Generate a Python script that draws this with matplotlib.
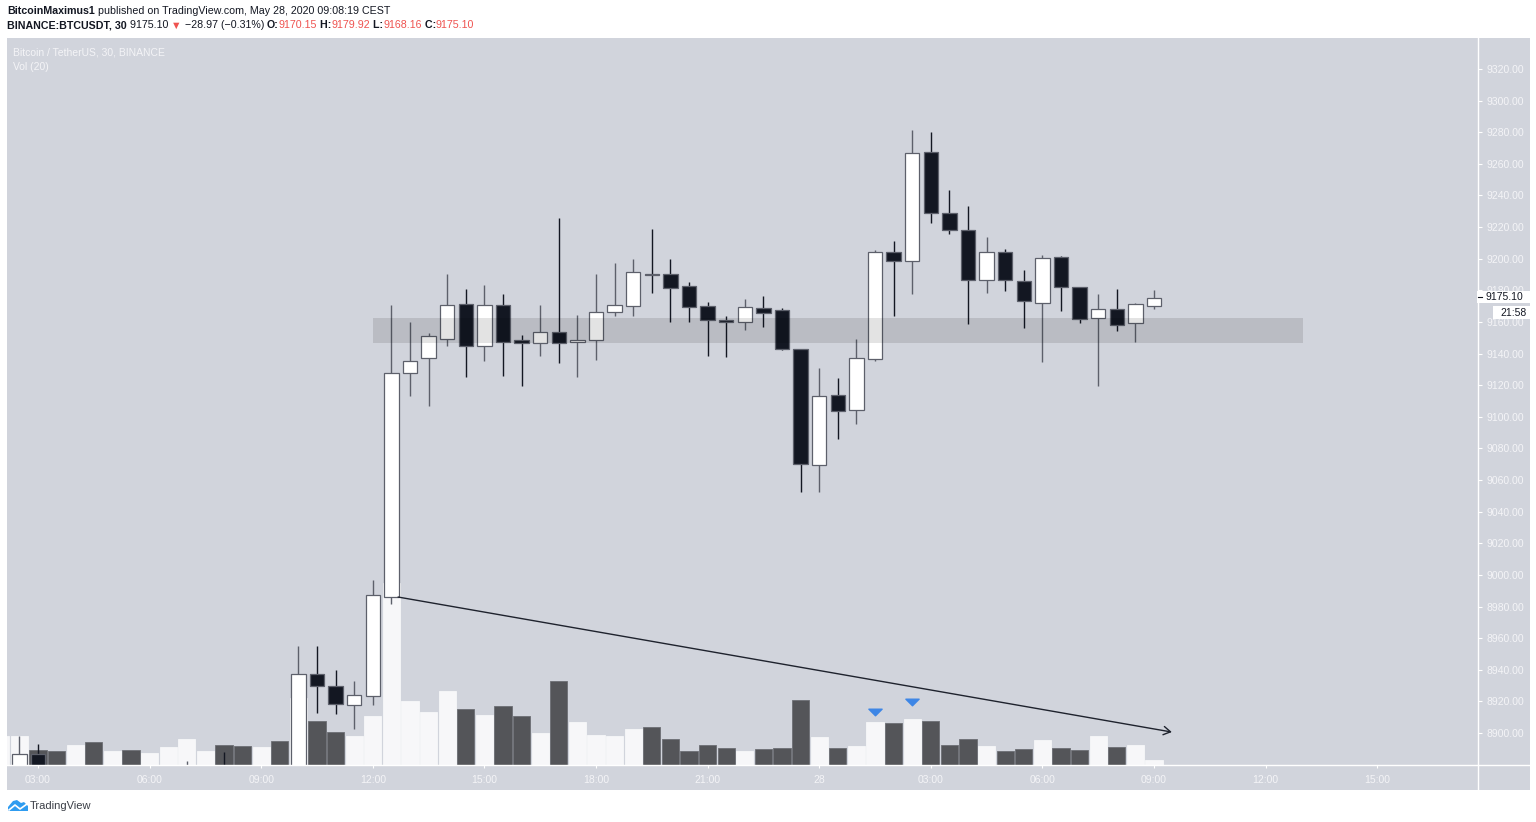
import matplotlib
matplotlib.use("Agg")
import matplotlib.pyplot as plt
import pandas as pd
from matplotlib.patches import Rectangle, Polygon
from matplotlib.lines import Line2D
from matplotlib.path import Path

plt.rcParams['font.family'] = ['Liberation Sans', 'DejaVu Sans']

#---------------------- data (BTCUSDT 30m)
times = pd.date_range("2020-05-27 02:00", "2020-05-28 09:00", freq="30min")
opens = [8866, 8872, 8887, 8870, 8862, 8868, 8858, 8863, 8857, 8861, 8866, 8874, 8876, 8870, 8864, 8869,
         8863, 8937.3, 8930, 8918, 8923.6, 8986, 9128, 9137, 9149, 9171.2, 9145, 9170.5,
         9148.6, 9146.7, 9153.4, 9147, 9148.4, 9166.5, 9170.3, 9190.5, 9190.3, 9182.5, 9170, 9161.2, 9160, 9168.8,
         9167.7, 9143, 9069.5, 9114, 9104.1, 9136.4, 9204.4, 9198.3, 9267.5, 9229.1, 9218.2, 9186.7, 9204.4,
         9185.9, 9172, 9200.9, 9181.9, 9162.7, 9168.2, 9159.3, 9170.15]
highs = [8878, 8898, 8893, 8874, 8872, 8871, 8866, 8867, 8864, 8869, 8882, 8879, 8888, 8874, 8873, 8872,
         8955, 8955, 8940, 8933, 8997, 9170.7, 9160, 9152.8, 9190.3, 9180.6, 9183.2, 9177.7,
         9151.7, 9170.5, 9225.7, 9164.4, 9190.3, 9197.5, 9200, 9219, 9199.6, 9185.5, 9172.8, 9164, 9174.3, 9176.6,
         9168.6, 9143, 9130.6, 9124.4, 9149.2, 9205.5, 9211, 9281.4, 9280, 9243.4, 9233.1, 9213.5, 9206.1,
         9193, 9202.3, 9201.9, 9181.9, 9177.7, 9180.6, 9172.2, 9179.92]
lows = [8862, 8868, 8866, 8858, 8857, 8852, 8855, 8853, 8854, 8858, 8863, 8870, 8866, 8860, 8861, 8858,
        8860, 8912.5, 8912, 8902.5, 8918, 8981.6, 9113.3, 9107, 9144.8, 9125.4, 9135, 9125.8,
        9119.7, 9138.5, 9134, 9125.4, 9135.7, 9164, 9163.5, 9178, 9159.8, 9159.8, 9138.5, 9138, 9155, 9157,
        9142, 9052.2, 9052.2, 9085.8, 9095.3, 9135, 9163.8, 9177.5, 9222.4, 9215.8, 9158.7, 9178.5, 9179.6,
        9156, 9134.4, 9166.9, 9159.1, 9119.7, 9154.5, 9147.1, 9168.16]
closes = [8872, 8887, 8870, 8862, 8868, 8858, 8863, 8857, 8861, 8866, 8874, 8876, 8870, 8864, 8869, 8863,
          8937.3, 8929.9, 8918.3, 8924, 8987.3, 9128, 9135.3, 9151.3, 9170.5, 9145, 9170.5, 9147.1,
          9146.9, 9153.4, 9146.7, 9148.6, 9166, 9170.5, 9191.8, 9190, 9181.3, 9169.6, 9161, 9160, 9169.3, 9165.4,
          9142.7, 9070, 9113.3, 9103.9, 9137, 9204.4, 9198.3, 9267, 9229.1, 9218.2, 9186.7, 9204.4, 9186.3,
          9173, 9200.2, 9181.9, 9162, 9168.2, 9158.3, 9171.2, 9175.10]
volume = [290, 290, 150, 140, 200, 230, 140, 150, 120, 180, 260, 140, 200, 190, 180, 240,
          670, 440, 330, 290, 490, 1820, 640, 530, 740, 560, 500, 590,
          490, 320, 840, 430, 300, 290, 360, 380, 260, 140, 200, 170, 140, 160,
          170, 650, 280, 170, 190, 430, 420, 460, 440, 200, 260, 190, 140, 160, 250, 170, 150, 290, 180, 200, 50]

# support zone and the drawn trend line (hours from 27 May 00:00, price)
zone_t = [12.0, 37.0]
zone_p = [9146.9, 9162.7]
trend_t = [12.68, 33.48]
trend_p = [8986.0, 8900.6]
signal_t = [25.5, 26.5]
signal_p = [8913.3, 8919.6]

price_ticks = list(range(8900, 9321, 20))
time_ticks = [3, 6, 9, 12, 15, 18, 21, 24, 27, 30, 33, 36, 39]
time_labels = ["03:00", "06:00", "09:00", "12:00", "15:00", "18:00", "21:00",
               "28", "03:00", "06:00", "09:00", "12:00", "15:00"]

#---------------------- layout
W, H = 1536, 822
BG = "#d1d4dc"
fx = lambda px: px / W
fy = lambda py: 1 - py / H

hours = [(t - times[0].normalize()) / pd.Timedelta(hours=1) for t in times]
up = [c >= o for o, c in zip(opens, closes)]

fig = plt.figure(figsize=(W / 100, H / 100), dpi=100)
fig.patch.set_facecolor("white")
fig.add_artist(Rectangle((fx(7), fy(790)), fx(1530) - fx(7), fy(38) - fy(790),
                         transform=fig.transFigure, fc=BG, ec="none", zorder=-5))

ax = fig.add_axes([fx(7), fy(765), fx(1478) - fx(7), fy(38) - fy(765)])
axv = ax.twinx()
axv.set_zorder(1)
ax.set_zorder(2)
ax.patch.set_visible(False)
axv.patch.set_visible(False)

# volume
vcol = ["#f7f7f9" if u else "#545559" for u in up]
vedge = ["#f7f7f9" if u else "#6c6e74" for u in up]
axv.bar(hours, volume, width=0.465, color=vcol, edgecolor=vedge, linewidth=0.6)
axv.set_ylim(0, 7270)
axv.set_yticks([])

# candles
wick_col = ["#5d606b" if u else "#131722" for u in up]
ax.vlines(hours, lows, highs, colors=wick_col, linewidth=1.0, zorder=2)
ax.bar(hours, [c - o for o, c in zip(opens, closes)], bottom=opens, width=0.385,
       color=["white" if u else "#131722" for u in up], edgecolor="#5d606b", linewidth=0.9, zorder=3)

ax.add_patch(Rectangle((zone_t[0], zone_p[0]), zone_t[1] - zone_t[0], zone_p[1] - zone_p[0],
                       fc="black", alpha=0.11, ec="none", zorder=5))
ax.annotate("", xy=(trend_t[1], trend_p[1]), xytext=(trend_t[0], trend_p[0]),
            arrowprops=dict(arrowstyle="->,head_length=0.5,head_width=0.3", color="#1e222d", lw=1.0,
                            shrinkA=0, shrinkB=0), zorder=6)
tri = Path([(-1, 0.5), (1, 0.5), (0, -0.5), (-1, 0.5)], [1, 2, 2, 79])
ax.plot(signal_t, signal_p, ls="none", marker=tri, ms=9.5, color="#3d86e6", zorder=6)

ax.set_xlim(2.167, 41.71)
ax.set_ylim(8879.76, 9339.6)
for a in (ax, axv):
    for s in a.spines.values():
        s.set_visible(False)
ax.yaxis.tick_right()
ax.set_yticks(price_ticks)
ax.set_yticklabels([f"{p:.2f}" for p in price_ticks])
ax.set_xticks(time_ticks)
ax.set_xticklabels(time_labels)
ax.tick_params(axis="y", colors="white", labelcolor="#f4f4f7", length=3, width=0.8, pad=3, labelsize=7.5)
ax.tick_params(axis="x", colors="white", labelcolor="#f4f4f7", length=2.5, width=0.8, pad=5, labelsize=7.5)

fig.add_artist(Line2D([fx(1478), fx(1478)], [fy(38), fy(790)], color="white", lw=1, transform=fig.transFigure, zorder=8))
fig.add_artist(Line2D([fx(7), fx(1530)], [fy(765), fy(765)], color="white", lw=1, transform=fig.transFigure, zorder=8))

# last price + countdown boxes
fig.add_artist(Rectangle((fx(1477), fy(303.5)), fx(1531) - fx(1477), fy(291) - fy(303.5),
                         transform=fig.transFigure, fc="white", ec="none", zorder=9))
fig.add_artist(Rectangle((fx(1493), fy(319.5)), fx(1531) - fx(1493), fy(306) - fy(319.5),
                         transform=fig.transFigure, fc="white", ec="none", zorder=9))
fig.add_artist(Line2D([fx(1478), fx(1482)], [fy(297.5), fy(297.5)], color="#131722", lw=0.8,
                      transform=fig.transFigure, zorder=10))
fig.text(fx(1486), fy(297.5), "9175.10", fontsize=7.5, color="#131722", va="center", ha="left", zorder=10)
fig.text(fx(1527), fy(313), "21:58", fontsize=7.5, color="#131722", va="center", ha="right", zorder=10)

# legend text inside chart
fig.text(fx(13), fy(52.5), "Bitcoin / TetherUS, 30, BINANCE", fontsize=7.5, color="#f4f4f7", va="center")
fig.text(fx(13), fy(67.5), "Vol (20)", fontsize=7.5, color="#f4f4f7", va="center")

#---------------------- header
rend = fig.canvas.get_renderer()
def write_line(x, y, parts):
    for s, col, w in parts:
        tx = fig.text(fx(x), fy(y), s, color=col, fontsize=7.7, fontweight=w, va="center", ha="left")
        x += tx.get_window_extent(renderer=rend).width
DK = "#131722"
RED = "#ef5350"
write_line(7, 11, [("BitcoinMaximus1", DK, "bold"),
                   (" published on TradingView.com, May 28, 2020 09:08:19 CEST", DK, "normal")])
write_line(7, 25.5, [("BINANCE:BTCUSDT, 30", DK, "bold"), (" 9175.10 ", DK, "normal"),
                     ("▼", RED, "normal"), (" −28.97 (−0.31%) ", DK, "normal"),
                     ("O:", DK, "bold"), ("9170.15", RED, "normal"), (" H:", DK, "bold"), ("9179.92", RED, "normal"),
                     (" L:", DK, "bold"), ("9168.16", RED, "normal"), (" C:", DK, "bold"), ("9175.10", RED, "normal")])

#---------------------- footer logo
logo = [(8, 811), (8, 807), (13, 801), (17, 800), (21, 803), (24, 802), (28, 806), (28, 811)]
fig.add_artist(Polygon([(fx(a), fy(b)) for a, b in logo], closed=True, transform=fig.transFigure,
                       fc="#2f9cf0", ec="none"))
fig.add_artist(Line2D([fx(9), fx(15), fx(20), fx(27)], [fy(810), fy(805), fy(809), fy(804)],
                      color="white", lw=1.2, transform=fig.transFigure))
fig.text(fx(30), fy(806), "TradingView", fontsize=8, color="#3b3f47", va="center")

fig.savefig("out.png", dpi=100, facecolor="white")
